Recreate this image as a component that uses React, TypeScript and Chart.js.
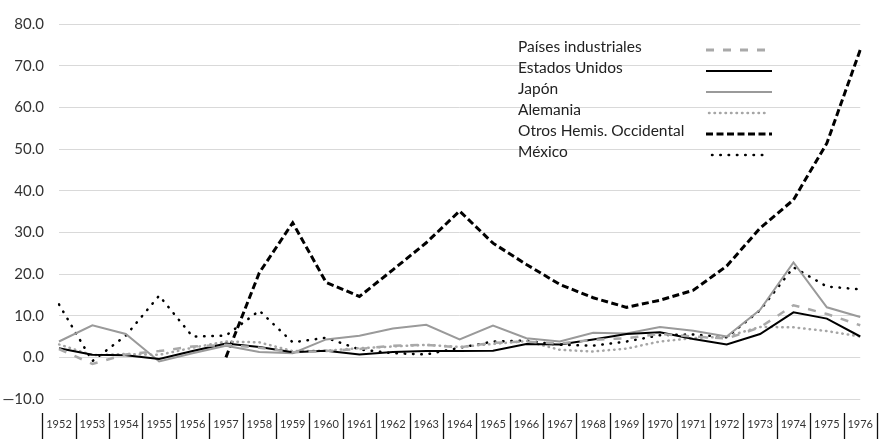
import React, { useEffect, useRef } from "react";
import { Chart, registerables } from "chart.js";

Chart.register(...registerables);

const years = [
  "1952", "1953", "1954", "1955", "1956", "1957", "1958", "1959", "1960", "1961",
  "1962", "1963", "1964", "1965", "1966", "1967", "1968", "1969", "1970", "1971",
  "1972", "1973", "1974", "1975", "1976",
];

const paisesIndustriales = [2.0, -1.6, 0.7, 1.5, 2.6, 3.0, 2.3, 1.2, 1.5, 2.0, 2.8, 3.0, 2.4, 3.5, 3.8, 3.3, 4.2, 4.6, 5.6, 5.0, 4.5, 7.2, 12.5, 10.4, 7.7];
const estadosUnidos = [2.2, 0.6, 0.5, -0.4, 1.5, 3.3, 2.5, 1.2, 1.6, 0.7, 1.3, 1.5, 1.5, 1.6, 3.2, 3.1, 4.3, 5.6, 6.0, 4.4, 3.1, 5.6, 10.8, 9.3, 5.0];
const japon = [3.8, 7.7, 5.6, -1.0, 1.0, 2.8, 1.3, 1.0, 4.3, 5.2, 6.9, 7.8, 4.3, 7.6, 4.6, 3.8, 5.9, 5.7, 7.3, 6.4, 5.0, 11.4, 22.8, 12.0, 9.7];
const alemania = [3.1, 0.5, 0.8, 0.6, 2.3, 3.8, 3.6, 1.5, 1.6, 2.2, 2.6, 3.0, 2.5, 3.2, 3.9, 1.8, 1.4, 2.1, 3.8, 4.6, 5.0, 7.3, 7.2, 6.3, 5.0];
const otrosHemisOccidental = [null, null, null, null, null, 0, 20.3, 32.3, 18.0, 14.6, 21.0, 27.5, 35.1, 27.4, 22.3, 17.5, 14.3, 12.0, 13.7, 16.1, 21.9, 31.0, 37.8, 51.4, 73.8];
const mexico = [12.7, -0.9, 5.2, 14.8, 5.0, 5.2, 11.2, 3.6, 4.7, 1.9, 1.0, 0.7, 2.3, 3.8, 4.0, 3.0, 2.8, 3.8, 5.3, 5.5, 4.8, 11.3, 21.6, 17.0, 16.3];

const seriesNames = [
  "Países industriales",
  "Estados Unidos",
  "Japón",
  "Alemania",
  "Otros Hemis. Occidental",
  "México",
];

const yTicks = { min: -10, max: 80, step: 10 };

const FONT = "Lato, 'Noto Sans', sans-serif";

const legendPlugin = {
  id: "customLegend",
  afterDraw(chart: any) {
    const o = chart.options.plugins.customLegend;
    const ctx = chart.ctx;
    ctx.save();
    chart.data.datasets.forEach((ds: any, i: number) => {
      const lineY = o.lineY0 + i * o.rowH;
      const textY = o.textY0 + i * o.rowH;
      ctx.fillStyle = "#222";
      ctx.font = `${o.fontSize}px ${FONT}`;
      ctx.textAlign = "left";
      ctx.textBaseline = "alphabetic";
      ctx.fillText(ds.label, o.textX, textY);
      ctx.beginPath();
      ctx.strokeStyle = ds.borderColor;
      ctx.lineWidth = ds.legendWidth || ds.borderWidth;
      ctx.lineCap = ds.borderCapStyle || "butt";
      ctx.setLineDash(ds.legendDash || ds.borderDash || []);
      ctx.moveTo(o.x1 + (ds.legendInset || 0), lineY);
      ctx.lineTo(o.x2 - (ds.legendInset || 0), lineY);
      ctx.stroke();
    });
    ctx.restore();
  },
};

const separatorPlugin = {
  id: "separators",
  afterDraw(chart: any) {
    const o = chart.options.plugins.separators;
    const xs = chart.scales.x;
    const ctx = chart.ctx;
    const n = chart.data.labels.length;
    const half = (xs.getPixelForValue(1) - xs.getPixelForValue(0)) / 2;
    ctx.save();
    ctx.strokeStyle = "#111";
    ctx.lineWidth = 1.3;
    ctx.setLineDash([]);
    for (let i = 0; i <= n; i++) {
      const x = Math.round(xs.getPixelForValue(Math.min(i, n - 1)) + (i < n ? -half : half)) + 0.5;
      ctx.beginPath();
      ctx.moveTo(x, xs.top + o.gap);
      ctx.lineTo(x, chart.height);
      ctx.stroke();
    }
    ctx.restore();
  },
};

export default function App() {
  const ref = useRef<HTMLCanvasElement | null>(null);

  useEffect(() => {
    if (!ref.current) return;
    const datasets: any[] = [
      {
        label: seriesNames[0],
        data: paisesIndustriales,
        borderColor: "#a9a9a9",
        borderWidth: 2.5,
        borderDash: [8, 9],
        legendWidth: 3,
      },
      {
        label: seriesNames[1],
        data: estadosUnidos,
        borderColor: "#000000",
        borderWidth: 2,
      },
      {
        label: seriesNames[2],
        data: japon,
        borderColor: "#9a9a9a",
        borderWidth: 2,
      },
      {
        label: seriesNames[3],
        data: alemania,
        borderColor: "#a6a6a6",
        borderWidth: 2.5,
        borderDash: [0.5, 5],
        borderCapStyle: "round",
        legendInset: 3,
      },
      {
        label: seriesNames[4],
        data: otrosHemisOccidental,
        borderColor: "#000000",
        borderWidth: 3,
        borderDash: [7, 3.5],
      },
      {
        label: seriesNames[5],
        data: mexico,
        borderColor: "#000000",
        borderWidth: 2.5,
        borderDash: [0.5, 7.8],
        borderCapStyle: "round",
        legendInset: 6,
      },
    ];
    datasets.forEach((d) => {
      d.pointRadius = 0;
      d.pointHoverRadius = 0;
      d.tension = 0;
      d.fill = false;
    });
    const chart = new Chart(ref.current, {
      type: "line",
      data: { labels: years, datasets },
      plugins: [legendPlugin, separatorPlugin],
      options: {
        animation: false,
        responsive: false,
        maintainAspectRatio: false,
        layout: { padding: { top: 17, left: 0, right: 0, bottom: 0 } },
        plugins: {
          legend: { display: false },
          tooltip: { enabled: false },
          customLegend: {
            textX: 518,
            textY0: 52,
            lineY0: 50,
            rowH: 21,
            x1: 706,
            x2: 772,
            fontSize: 15.5,
          },
          separators: { gap: 14 },
        } as any,
        scales: {
          x: {
            type: "category",
            grid: { display: false, drawTicks: false },
            border: { display: false },
            ticks: {
              autoSkip: false,
              maxRotation: 0,
              padding: 19,
              color: "#333",
              font: { family: FONT, size: 11 },
            },
            afterFit(scale: any) {
              scale.height = 40;
            },
          },
          y: {
            min: yTicks.min,
            max: yTicks.max,
            grid: { color: "#d9d9d9", lineWidth: 1, drawTicks: false },
            border: { display: false },
            ticks: {
              stepSize: yTicks.step,
              padding: 15,
              color: "#333",
              font: { family: FONT, size: 15 },
              callback: (v: any) =>
                Number(v) < 0 ? "—" + Math.abs(Number(v)).toFixed(1) : Number(v).toFixed(1),
            },
            afterFit(scale: any) {
              scale.width = 59;
            },
          },
        },
      } as any,
    });
    return () => chart.destroy();
  }, []);

  return (
    <div style={{ position: "fixed", left: 0, top: 0, width: 892, height: 439, background: "#fff" }}>
      <canvas ref={ref} width={892} height={439} style={{ display: "block" }} />
    </div>
  );
}
